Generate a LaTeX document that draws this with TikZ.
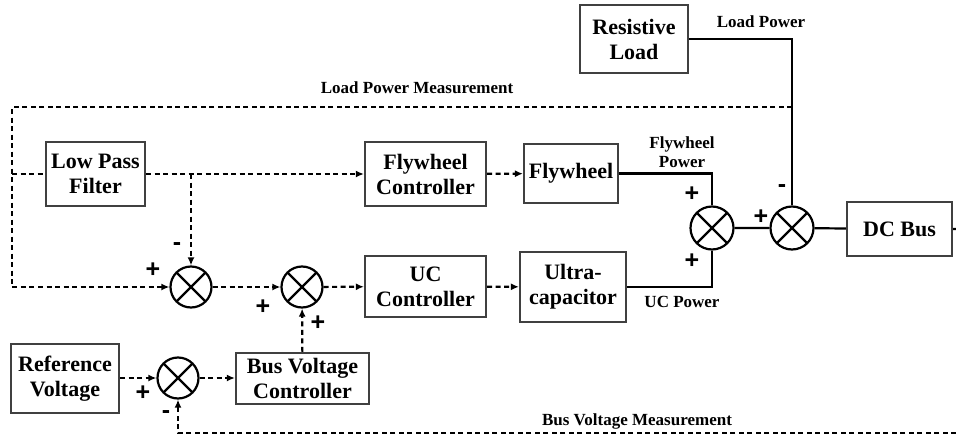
\documentclass[tikz,border=0pt]{standalone}
\usepackage{fontspec}
\setmainfont{Liberation Serif}
\setsansfont{Liberation Sans}
\usetikzlibrary{arrows.meta,calc}
\tikzset{
 blk/.style={draw=black!75, line width=2.2pt, font=\bfseries\fontsize{22}{25}\selectfont, align=center, inner sep=0pt},
 sumop/.style={draw, circle, line width=2.2pt, minimum size=41pt, inner sep=0pt,
   path picture={\draw[line width=2.2pt] (path picture bounding box.north west) -- (path picture bounding box.south east)
     (path picture bounding box.north east) -- (path picture bounding box.south west);}},
 sig/.style={dash pattern=on 5pt off 3.5pt, line width=2.2pt},
 pow/.style={line width=2.2pt},
 lbl/.style={font=\bfseries\fontsize{17}{19}\selectfont, align=center, inner sep=0pt},
 sgn/.style={font=\sffamily\bfseries\fontsize{25}{25}\selectfont, inner sep=0pt}
}
\begin{document}
\begin{tikzpicture}[x=1pt, y=-1pt, >={Latex[length=8pt,width=7pt]}]
 \useasboundingbox (0,0) rectangle (956,439);
 \node[blk, minimum width=108pt, minimum height=68pt] (load) at (634,39) {Resistive\\Load};
 \node[blk, minimum width=99pt, minimum height=64pt] (lpf) at (95.5,174) {Low Pass\\Filter};
 \node[blk, minimum width=121pt, minimum height=64pt] (fwc) at (425.5,174) {Flywheel\\Controller};
 \node[blk, minimum width=94pt, minimum height=59pt] (fw) at (571,173.5) {Flywheel};
 \node[blk, minimum width=121pt, minimum height=61pt] (ucc) at (425.5,286.5) {UC\\Controller};
 \node[blk, minimum width=106pt, minimum height=70pt] (uc) at (573,287) {Ultra-\\capacitor};
 \node[blk, minimum width=105pt, minimum height=54pt] (dcb) at (899.5,229) {DC Bus};
 \node[blk, minimum width=133pt, minimum height=51pt] (bvc) at (302.5,378.5) {Bus Voltage\\Controller};
 \node[blk, minimum width=108pt, minimum height=69pt] (ref) at (65,378.5) {Reference\\Voltage};
 \node[sumop] (sa) at (191,287) {};
 \node[sumop] (sb) at (302,287) {};
 \node[sumop] (sc) at (178,378) {};
 \node[sumop, minimum size=43pt] (s1) at (712,228) {};
 \node[sumop, minimum size=43pt] (s2) at (792,228) {};
 \coordinate (tapL) at (792,107);
 \coordinate (cornL) at (12,107);
 \coordinate (tapF) at (12,174);
 \coordinate (cornA) at (12,287);
 \coordinate (tapA) at (191,174);
 \coordinate (dcend) at (956,229);
 \coordinate (bvm) at (956,433);
 \coordinate (cornC) at (178,433);
 \draw[pow] (load.east) -| (s2.north);
 \draw[pow] (fw.east) -| (s1.north);
 \draw[pow] (uc.east) -| (s1.south);
 \draw[pow] (s1) -- (s2) (s2) -- (dcb) (dcb.east) -- (dcend);
 \draw[sig, ->] (tapL) -- (cornL) -- (cornA) -- (sa.west);
 \draw[sig] (tapF) -- (lpf.west);
 \draw[sig, ->] (lpf.east) -- (fwc.west);
 \draw[sig, ->] (tapA) -- (sa.north);
 \draw[sig, ->] (fwc) -- (fw);
 \draw[sig, ->] (sa) -- (sb);
 \draw[sig, ->] (sb) -- (ucc);
 \draw[sig, ->] (ucc) -- (uc);
 \draw[sig, ->] (bvc) -- (sb);
 \draw[sig, ->] (ref.east |- sc) -- (sc);
 \draw[sig, ->] (sc) -- (bvc.west |- sc);
 \draw[sig, ->] (bvm) -- (cornC) -- (sc.south);
 \node[lbl] (lpTxt) at (761,22) {Load Power};
 \node[lbl] (lpmTxt) at (417,88) {Load Power Measurement};
 \node[lbl] (fpTxt) at (682,152) {Flywheel\\Power};
 \node[lbl] (upTxt) at (682,302) {UC Power};
 \node[lbl] (bvmTxt) at (637,421) {Bus Voltage Measurement};
 \node[sgn] at (692,194) {+};
 \node[sgn] at (692,261) {+};
 \node[sgn] at (761,217) {+};
 \node[sgn] at (782,189) {-};
 \node[sgn] at (153,270) {+};
 \node[sgn] at (177,247) {-};
 \node[sgn] at (263,307) {+};
 \node[sgn] at (318,323) {+};
 \node[sgn] at (143,393) {+};
 \node[sgn] at (166,415) {-};
\end{tikzpicture}
\end{document}
